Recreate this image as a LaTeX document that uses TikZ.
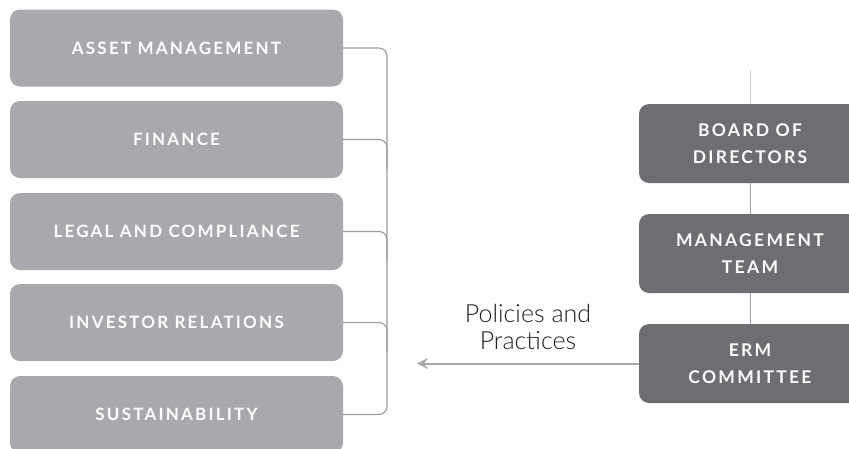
\documentclass[tikz,border=0pt]{standalone}
\usepackage{fontspec}
\setmainfont{Lato}
\newfontfamily\capsfont[LetterSpace=13]{Lato Bold}
\newfontfamily\lightfont{Lato Light}
\usetikzlibrary{arrows.meta}
\definecolor{lightbox}{HTML}{A7A9AC}
\definecolor{darkbox}{HTML}{6D6E71}
\definecolor{connc}{HTML}{9D9FA2}
\definecolor{labelc}{HTML}{231F20}
\tikzset{
  leftbox/.style={fill=lightbox, rounded corners=10pt, minimum width=333pt, minimum height=77pt,
    inner sep=0pt, text=white, font=\capsfont\fontsize{17}{20}\selectfont, align=center},
  rightbox/.style={fill=darkbox, rounded corners=10pt, minimum width=222pt, minimum height=79pt,
    inner sep=0pt, text=white, font=\capsfont\fontsize{17.5}{27}\selectfont, align=center},
  conn/.style={draw=connc, line width=1.2pt, rounded corners=8pt},
  vline/.style={draw=connc, line width=1pt},
  flowarrow/.style={draw=lightbox, line width=2pt, -{Stealth[length=11pt, width=11pt, inset=4pt]}}
}
\begin{document}
\begin{tikzpicture}[x=1pt, y=-1pt]
\useasboundingbox (0,0) rectangle (849,448);
\clip (0,0) rectangle (849,448);
\fill[white] (0,0) rectangle (849,448);
% left column
\node[leftbox] (b1) at (176.5,48) {ASSET MANAGEMENT};
\node[leftbox] (b2) at (176.5,139.5) {FINANCE};
\node[leftbox] (b3) at (176.5,231.5) {LEGAL AND COMPLIANCE};
\node[leftbox] (b4) at (176.5,322.5) {INVESTOR RELATIONS};
\node[leftbox] (b5) at (176.5,414.5) {SUSTAINABILITY};
\coordinate (spine) at (387,0);
\draw[conn] (b1.east) -- (b1.east -| spine) -- (b5.east -| spine) -- (b5.east);
\draw[conn] (b2.east) -- (b2.east -| spine) -- ++(0,30);
\draw[conn] (b3.east) -- (b3.east -| spine) -- ++(0,30);
\draw[conn] (b4.east) -- (b4.east -| spine) -- ++(0,30);
% right column
\node[rightbox] (board) at (750,143.5) {BOARD OF\\DIRECTORS};
\node[rightbox] (mgmt) at (750,253.5) {MANAGEMENT\\TEAM};
\node[rightbox] (erm) at (750,363.5) {ERM\\COMMITTEE};
\coordinate (top) at (750,70);
\draw[vline, draw=connc!50] (top) -- (board.north);
\draw[vline] (board.south) -- (mgmt.north);
\draw[vline] (mgmt.south) -- (erm.north);
\coordinate (arrowend) at (417,363.5);
\draw[flowarrow] (erm.west) -- (arrowend);
\node[text=labelc, font=\lightfont\fontsize{25}{27}\selectfont, align=center] (lbl) at (528,327) {Policies and\\Practices};
\end{tikzpicture}
\end{document}
